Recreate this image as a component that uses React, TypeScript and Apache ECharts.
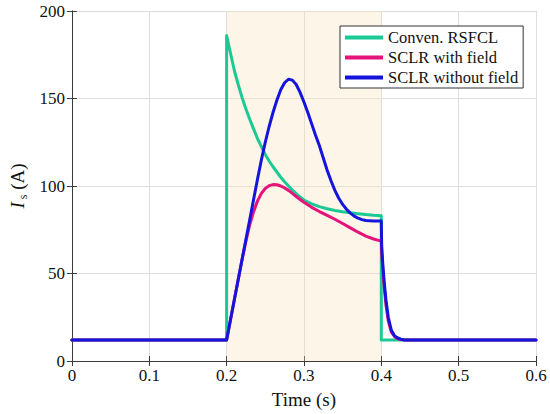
import React, { useEffect, useRef } from "react";
import * as echarts from "echarts";

const xTicks = [0, 0.1, 0.2, 0.3, 0.4, 0.5, 0.6];
const yTicks = [0, 50, 100, 150, 200];
const faultWindow = [0.2, 0.4];

const seriesNames = ["Conven. RSFCL", "SCLR with field", "SCLR without field"];

const rsfclT = [0, 0.2, 0.2, 0.205, 0.21, 0.215, 0.22, 0.225, 0.23, 0.235, 0.24, 0.245, 0.25, 0.255, 0.26, 0.265, 0.27, 0.275, 0.28, 0.285, 0.29, 0.295, 0.3, 0.31, 0.32, 0.33, 0.34, 0.35, 0.36, 0.37, 0.38, 0.39, 0.4, 0.4, 0.6];
const rsfclV = [12, 12, 186, 176, 166, 158, 150.5, 144, 138, 132.5, 127, 122.5, 118, 114.3, 111, 108, 105, 102.4, 100, 97.7, 95.6, 93.7, 92, 89.8, 88.2, 87, 86, 85.3, 84.7, 84.2, 83.7, 83.3, 83, 12, 12];

const withFieldT = [0, 0.2, 0.21, 0.22, 0.225, 0.23, 0.235, 0.24, 0.245, 0.25, 0.255, 0.26, 0.265, 0.27, 0.275, 0.28, 0.285, 0.29, 0.295, 0.3, 0.31, 0.32, 0.33, 0.34, 0.35, 0.36, 0.37, 0.38, 0.39, 0.4, 0.4005, 0.402, 0.404, 0.406, 0.409, 0.413, 0.417, 0.42, 0.425, 0.43, 0.6];
const withFieldV = [12, 12, 35, 58, 68.5, 78, 85.5, 91.5, 95.8, 98.6, 100.2, 100.8, 100.7, 100, 98.9, 97.5, 95.8, 94, 92.3, 90.7, 87.8, 85.4, 83.2, 81, 78.6, 76.1, 73.6, 71.4, 69.7, 68.5, 62, 52, 41, 32, 23, 16.5, 14, 13, 12.3, 12, 12];

const withoutFieldT = [0, 0.2, 0.21, 0.22, 0.23, 0.24, 0.245, 0.25, 0.255, 0.26, 0.265, 0.27, 0.275, 0.28, 0.285, 0.29, 0.295, 0.3, 0.305, 0.31, 0.315, 0.32, 0.325, 0.33, 0.335, 0.34, 0.345, 0.35, 0.355, 0.36, 0.365, 0.37, 0.375, 0.38, 0.39, 0.4, 0.4005, 0.402, 0.404, 0.406, 0.409, 0.413, 0.417, 0.42, 0.425, 0.43, 0.6];
const withoutFieldV = [12, 12, 35, 58, 81, 104, 115, 125, 134, 142, 149, 155, 159, 161, 160.5, 158, 153.5, 148, 142, 135.5, 129, 123, 116, 109, 103, 97.5, 93, 89.5, 86.7, 84.5, 82.8, 81.6, 80.8, 80.3, 80, 80, 66, 55, 44, 35, 25, 17.5, 14.5, 13.5, 12.5, 12, 12];

const colors = ["#1BC995", "#E5137A", "#1414DC"];

const zip = (t: number[], v: number[]) => t.map((x, i) => [x, v[i]]);

export default function App() {
  const ref = useRef<HTMLDivElement>(null);
  useEffect(() => {
    if (!ref.current) return;
    const chart = echarts.init(ref.current, null, { renderer: "svg" });
    const font = "Times New Roman, Liberation Serif, Times, DejaVu Serif, serif";
    const axisLineStyle = { color: "#3a3a3a", width: 1 };
    const tickStyle = { show: true, inside: true, length: 5, lineStyle: { color: "#3a3a3a" } };
    const lineSeries = (name: string, t: number[], v: number[], color: string) => ({
      name,
      type: "line",
      data: zip(t, v),
      showSymbol: false,
      symbol: "none",
      smooth: false,
      lineStyle: { color, width: 3, join: "round", cap: "round" },
      itemStyle: { color },
      xAxisIndex: 0,
      yAxisIndex: 0,
    });
    chart.setOption({
      animation: false,
      backgroundColor: "#ffffff",
      textStyle: { fontFamily: font },
      grid: { left: 70, right: 14, top: 11, bottom: 53, containLabel: false },
      legend: {
        data: seriesNames,
        orient: "vertical",
        left: 340,
        top: 26,
        backgroundColor: "#ffffff",
        borderColor: "#333333",
        borderWidth: 1,
        padding: [3, 5, 2, 5],
        itemGap: 3,
        itemWidth: 38,
        itemHeight: 4,
        icon: "rect",
        textStyle: { fontFamily: font, fontSize: 16.5, color: "#111", lineHeight: 16 },
      },
      xAxis: [
        {
          type: "value",
          min: xTicks[0],
          max: xTicks[xTicks.length - 1],
          interval: 0.1,
          position: "bottom",
          name: "Time (s)",
          nameLocation: "middle",
          nameGap: 29,
          nameTextStyle: { fontFamily: font, fontSize: 19, color: "#111" },
          axisLine: { show: true, lineStyle: axisLineStyle },
          axisTick: tickStyle,
          axisLabel: {
            fontFamily: font,
            fontSize: 17,
            color: "#111",
            margin: 6,
            formatter: (v: number) => String(+v.toFixed(1)),
          },
          splitLine: { show: true, lineStyle: { color: "#dedede", width: 1 } },
        },
        {
          type: "value",
          min: xTicks[0],
          max: xTicks[xTicks.length - 1],
          interval: 0.1,
          position: "top",
          axisLine: { show: true, lineStyle: axisLineStyle },
          axisTick: tickStyle,
          axisLabel: { show: false },
          splitLine: { show: false },
        },
      ],
      yAxis: [
        {
          type: "value",
          min: yTicks[0],
          max: yTicks[yTicks.length - 1],
          interval: 50,
          position: "left",
          name: "{i|I}{s| s}{n| (A)}",
          nameLocation: "middle",
          nameRotate: 90,
          nameGap: 41,
          nameTextStyle: {
            fontFamily: font,
            fontSize: 19,
            color: "#111",
            rich: {
              i: { fontFamily: font, fontSize: 19, fontStyle: "italic", color: "#111", lineHeight: 22 },
              s: { fontFamily: font, fontSize: 12, fontStyle: "normal", color: "#111", lineHeight: 12, verticalAlign: "bottom" },
              n: { fontFamily: font, fontSize: 19, fontStyle: "normal", color: "#111", lineHeight: 22 },
            },
          },
          axisLine: { show: true, lineStyle: axisLineStyle },
          axisTick: tickStyle,
          axisLabel: { fontFamily: font, fontSize: 17, color: "#111", margin: 7 },
          splitLine: { show: true, lineStyle: { color: "#dedede", width: 1 } },
        },
        {
          type: "value",
          min: yTicks[0],
          max: yTicks[yTicks.length - 1],
          interval: 50,
          position: "right",
          axisLine: { show: true, lineStyle: axisLineStyle },
          axisTick: tickStyle,
          axisLabel: { show: false },
          splitLine: { show: false },
        },
      ],
      series: [
        {
          name: "fault",
          type: "line",
          data: [],
          xAxisIndex: 0,
          yAxisIndex: 0,
          markArea: {
            silent: true,
            itemStyle: { color: "rgba(246, 226, 186, 0.33)" },
            data: [[{ xAxis: faultWindow[0] }, { xAxis: faultWindow[1] }]],
          },
        },
        lineSeries(seriesNames[0], rsfclT, rsfclV, colors[0]),
        lineSeries(seriesNames[1], withFieldT, withFieldV, colors[1]),
        lineSeries(seriesNames[2], withoutFieldT, withoutFieldV, colors[2]),
      ],
    });
    return () => chart.dispose();
  }, []);
  return (
    <div
      ref={ref}
      style={{ position: "fixed", left: 0, top: 0, width: 550, height: 414, background: "#fff" }}
    />
  );
}
